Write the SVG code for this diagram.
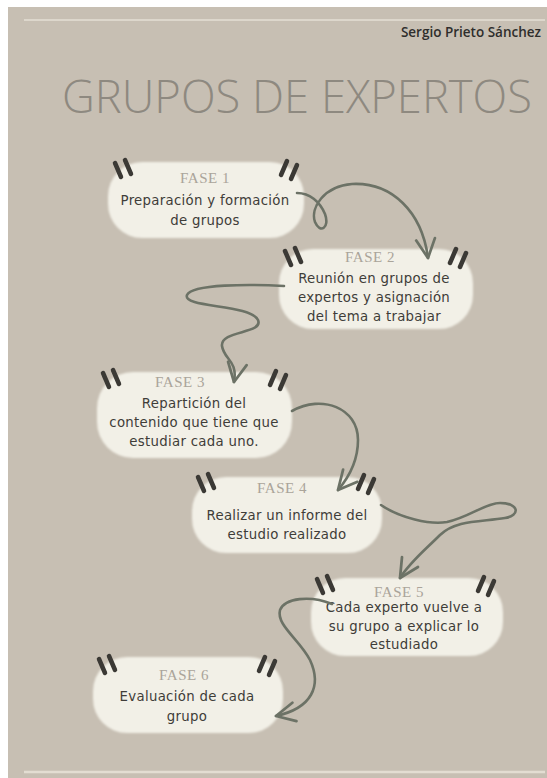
<svg xmlns="http://www.w3.org/2000/svg" width="547" height="778" viewBox="0 0 547 778">
<style>
.pill{fill:#f2f0e7;filter:url(#soft)}
.tick{stroke:#3b3935;stroke-width:4.5;stroke-linecap:round;fill:none}
.conn{fill:none;stroke:#6c7266;stroke-width:2.6;stroke-linecap:round;stroke-linejoin:round}
.fase{font-family:"Liberation Serif",serif;font-size:15px;fill:#aaa49a;text-anchor:middle;letter-spacing:0.5px}
.body{font-family:"DejaVu Sans",sans-serif;font-size:13.3px;fill:#3f3d39;text-anchor:middle;letter-spacing:0.3px}
</style>
<defs>
<filter id="soft" x="-10%" y="-20%" width="120%" height="140%"><feGaussianBlur stdDeviation="1.3"/></filter>
<marker id="arrow" viewBox="0 0 14 14" refX="12" refY="7" markerWidth="24" markerHeight="24" markerUnits="userSpaceOnUse" orient="auto">
<path d="M1,1.5 L12,7 L1,12.5" fill="none" stroke="#6c7266" stroke-width="1.6" stroke-linecap="round" stroke-linejoin="round"/>
</marker>
<g id="tl"><line class="tick" x1="5" y1="5" x2="11" y2="19"/><line class="tick" x1="15" y1="2" x2="21" y2="16"/></g>
<g id="tr"><line class="tick" x1="-22" y1="17" x2="-16" y2="3"/><line class="tick" x1="-12" y1="21" x2="-6" y2="7"/></g>
</defs>
<rect x="0" y="0" width="547" height="778" fill="#ffffff"/>
<rect x="8" y="7" width="539" height="771" fill="#c7bfb3"/>
<line x1="24" y1="20" x2="545" y2="20" stroke="#ddd7cc" stroke-width="2"/>
<line x1="24" y1="772" x2="545" y2="772" stroke="#e3ddd2" stroke-width="2.5"/>
<text x="541" y="37" text-anchor="end" font-family="Open Sans, sans-serif" font-weight="600" font-size="13.5" fill="#2f2e2c">Sergio Prieto Sánchez</text>
<text x="62" y="113" font-family="Open Sans, sans-serif" font-weight="300" font-size="46" fill="#8e8980" textLength="470" lengthAdjust="spacingAndGlyphs">GRUPOS DE EXPERTOS</text>

<g id="fase1">
<rect class="pill" x="108" y="162" width="196" height="76" rx="34"/>
<use href="#tl" x="110" y="158"/><use href="#tr" x="303" y="158"/>
<text class="fase" x="205" y="183">FASE 1</text>
<text class="body" x="205" y="205">Preparación y formación</text>
<text class="body" x="205" y="225">de grupos</text>
</g>
<g id="fase2">
<rect class="pill" x="279" y="249" width="194" height="80" rx="34"/>
<use href="#tl" x="280" y="246"/><use href="#tr" x="472" y="246"/>
<text class="fase" x="370" y="262">FASE 2</text>
<text class="body" x="374" y="283">Reunión en grupos de</text>
<text class="body" x="374" y="302">expertos y asignación</text>
<text class="body" x="374" y="321">del tema a trabajar</text>
</g>
<g id="fase3">
<rect class="pill" x="97" y="372" width="195" height="86" rx="36"/>
<use href="#tl" x="98" y="368"/><use href="#tr" x="292" y="368"/>
<text class="fase" x="180" y="387">FASE 3</text>
<text class="body" x="194" y="408">Repartición del</text>
<text class="body" x="194" y="427">contenido que tiene que</text>
<text class="body" x="194" y="446">estudiar cada uno.</text>
</g>
<g id="fase4">
<rect class="pill" x="192" y="477" width="190" height="76" rx="34"/>
<use href="#tl" x="193" y="472"/><use href="#tr" x="380" y="472"/>
<text class="fase" x="282" y="493">FASE 4</text>
<text class="body" x="287" y="520">Realizar un informe del</text>
<text class="body" x="287" y="539">estudio realizado</text>
</g>
<g id="fase5">
<rect class="pill" x="311" y="578" width="192" height="78" rx="34"/>
<use href="#tl" x="312" y="574"/><use href="#tr" x="500" y="574"/>
<text class="fase" x="399" y="597">FASE 5</text>
<text class="body" x="404" y="612">Cada experto vuelve a</text>
<text class="body" x="404" y="631">su grupo a explicar lo</text>
<text class="body" x="404" y="649">estudiado</text>
</g>
<g id="fase6">
<rect class="pill" x="93" y="657" width="190" height="76" rx="34"/>
<use href="#tl" x="94" y="654"/><use href="#tr" x="281" y="654"/>
<text class="fase" x="184" y="680">FASE 6</text>
<text class="body" x="187" y="701">Evaluación de cada</text>
<text class="body" x="187" y="721">grupo</text>
</g>

<g id="connectors">
<path class="conn" marker-end="url(#arrow)" d="M297,193 C310,193 320,202 325,214 C330,228 320,234 315,222 C310,208 324,186 352,184 C392,182 422,212 428,258"/>
<path class="conn" marker-end="url(#arrow)" d="M284,286 C250,284 192,284 187,295 C182,308 250,304 258,320 C264,334 220,330 222,346 C224,360 238,360 234,382"/>
<path class="conn" marker-end="url(#arrow)" d="M292,411 C322,394 358,408 358,440 C358,460 350,476 338,490"/>
<path class="conn" marker-end="url(#arrow)" d="M381,505 C400,518 430,525 447,522 C470,517 485,503 500,503 C520,503 520,516 505,518 C480,522 456,520 440,535 C425,550 410,562 400,578"/>
<path class="conn" marker-end="url(#arrow)" d="M332,604 C310,595 285,598 280,610 C276,625 300,640 310,660 C322,686 312,708 276,716"/>
</g>
</svg>
